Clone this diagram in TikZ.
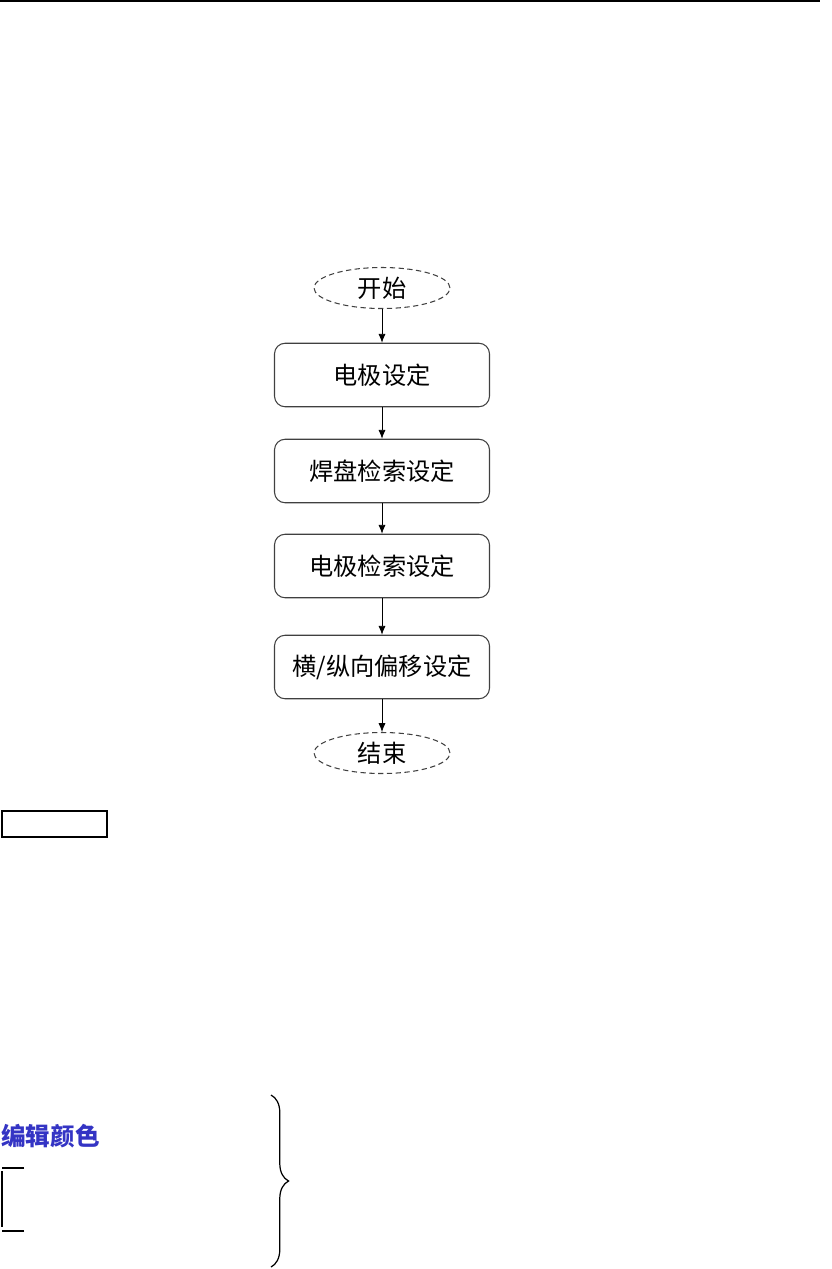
\documentclass[tikz,border=0pt]{standalone}
\usepackage{fontspec}
\usepackage{xcolor}
\usepackage{tikz}
\usetikzlibrary{arrows.meta,shapes.geometric,decorations.pathreplacing}
\setmainfont{Noto Sans CJK SC}
\definecolor{editblue}{RGB}{52,52,196}

\begin{document}
\begin{tikzpicture}[x=0.02cm,y=-0.02cm,font=\fontsize{13.8}{16}\selectfont,>={Latex[length=5pt,width=4pt]},
  stepbox/.style={draw=black!75,line width=0.6pt,rounded corners=6pt,minimum width=4.3cm,minimum height=1.27cm,inner sep=0pt},
  termbox/.style={ellipse,draw=black!75,line width=0.6pt,densely dashed,minimum width=2.72cm,minimum height=0.82cm,inner sep=0pt}]
\useasboundingbox (0,0) rectangle (832,1269);
\draw[line width=0.8pt] (0,1) -- (820,1);
% flow
\node[termbox] (start) at (382,288) {开始};
\node[stepbox] (elec) at (382,375) {电极设定};
\node[stepbox] (pad) at (382,471) {焊盘检索设定};
\node[stepbox] (esearch) at (382,566) {电极检索设定};
\node[stepbox] (offset) at (382,667) {横/纵向偏移设定};
\node[termbox] (stop) at (382,753) {结束};
\draw[->] (start) -- (elec);
\draw[->] (elec) -- (pad);
\draw[->] (pad) -- (esearch);
\draw[->] (esearch) -- (offset);
\draw[->] (offset) -- (stop);
% empty field
\node[draw,line width=0.8pt,minimum width=2.1cm,minimum height=0.52cm,inner sep=0pt] (field) at (54.5,824) {};
% colour label and bracket
\node[anchor=west,text=editblue,font=\fontsize{14}{16}\selectfont\bfseries,inner sep=0pt] (edit) at (1,1136) {编辑颜色};
\coordinate (bt) at (24,1168);
\coordinate (bb) at (24,1231);
\draw[line width=0.6pt] (bt) -- (2,1168);
\draw[line width=1.2pt] (2,1171) -- (2,1227);
\draw[line width=1pt] (bb) -- (2,1231);
\coordinate (brtop) at (271,1095);
\coordinate (brbot) at (271,1267);
\draw[line width=0.7pt,decorate,decoration={brace,amplitude=10pt}] (brtop) -- (brbot);
\end{tikzpicture}
\end{document}
